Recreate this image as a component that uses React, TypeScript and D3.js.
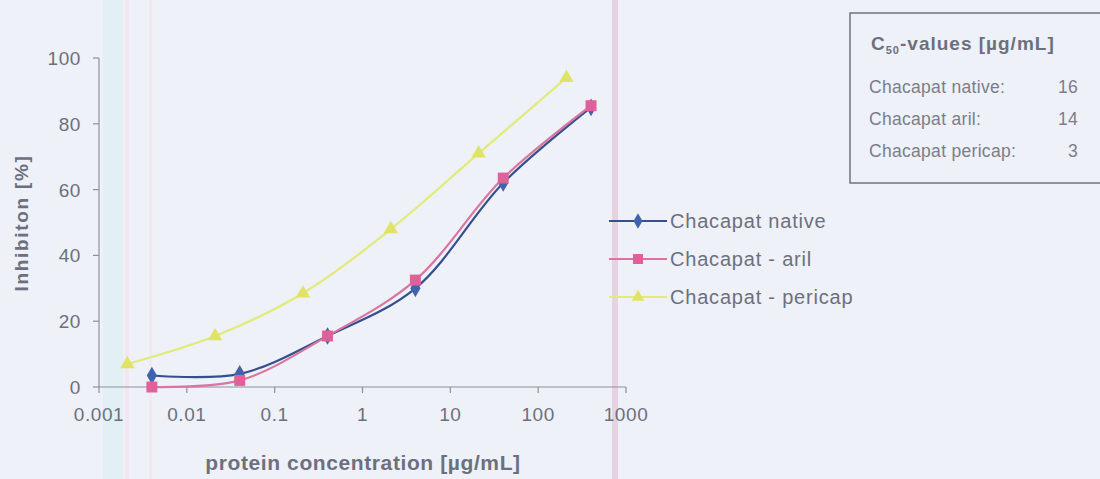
import React from "react";
import * as d3 from "d3";

// concentrations [µg/mL] and inhibition [%]
const nativeConc = [0.004, 0.04, 0.4, 4, 40, 400];
const nativeVals = [3.5, 4, 15.5, 30, 62, 85];
const arilConc = [0.004, 0.04, 0.4, 4, 40, 400];
const arilVals = [0, 2, 15.5, 32.5, 63.5, 85.5];
const pericapConc = [0.0021, 0.021, 0.21, 2.1, 21, 210];
const pericapVals = [7, 15.5, 28.5, 48, 71, 94];

const xTicks = [0.001, 0.01, 0.1, 1, 10, 100, 1000];
const yTicks = [0, 20, 40, 60, 80, 100];

const c50Names = ["Chacapat native:", "Chacapat aril:", "Chacapat pericap:"];
const c50Vals = ["16", "14", "3"];

const W = 1100;
const H = 479;
const font = "Arial, 'Liberation Sans', sans-serif";
const textCol = "#6c707e";

function App() {
  const x = d3.scaleLog().domain([0.001, 1000]).range([99, 626]);
  const y = d3.scaleLinear().domain([0, 100]).range([387, 58]);
  const line = d3
    .line<[number, number]>()
    .x((d) => x(d[0]))
    .y((d) => y(d[1]))
    .curve(d3.curveCatmullRom.alpha(0.5));

  const series = [
    { name: "Chacapat native", conc: nativeConc, vals: nativeVals, line: "#34508f", fill: "#3f63ad", shape: d3.symbolDiamond },
    { name: "Chacapat - aril", conc: arilConc, vals: arilVals, line: "#d9759f", fill: "#e0609a", shape: d3.symbolSquare },
    { name: "Chacapat - pericap", conc: pericapConc, vals: pericapVals, line: "#e2ea78", fill: "#dfe466", shape: d3.symbolTriangle },
  ];
  const drawOrder = [2, 0, 1];

  return (
    <svg width={W} height={H} style={{ position: "absolute", left: 0, top: 0 }}>
      <rect width={W} height={H} fill="#eef1f7" />
      {/* scan artefacts */}
      <rect x={103} y={0} width={20} height={H} fill="#e2f0f6" />
      <rect x={125} y={0} width={4} height={H} fill="#f4e6ee" />
      <rect x={149} y={0} width={3} height={H} fill="#f2e8f0" />
      <rect x={612} y={0} width={6} height={H} fill="#e6d3e0" />

      {/* axes */}
      <g stroke="#8d909a" strokeWidth={1.2}>
        <line x1={99} x2={99} y1={y(100)} y2={y(0)} />
        <line x1={99} x2={626} y1={y(0)} y2={y(0)} />
        {yTicks.map((t) => (
          <line key={t} x1={93} x2={99} y1={y(t)} y2={y(t)} />
        ))}
        {xTicks.map((t) => (
          <line key={t} x1={x(t)} x2={x(t)} y1={y(0)} y2={y(0) + 6} />
        ))}
      </g>
      <g fontFamily={font} fontSize={19} fill={textCol} letterSpacing={0.6}>
        {yTicks.map((t) => (
          <text key={t} x={81} y={y(t) + 7} textAnchor="end">{t}</text>
        ))}
        {xTicks.map((t) => (
          <text key={t} x={x(t)} y={421} textAnchor="middle">{String(t)}</text>
        ))}
      </g>
      <text
        transform="translate(28,223) rotate(-90)"
        textAnchor="middle"
        fontFamily={font}
        fontSize={19}
        fontWeight="bold"
        fill={textCol}
        letterSpacing={1.7}
      >
        Inhibiton [%]
      </text>
      <text x={363} y={470} textAnchor="middle" fontFamily={font} fontSize={21} fontWeight="bold" fill={textCol} letterSpacing={0.6}>
        protein concentration [µg/mL]
      </text>

      {/* series */}
      {drawOrder.map((i) => {
        const s = series[i];
        const pts = s.conc.map((c, k) => [c, s.vals[k]] as [number, number]);
        return (
          <g key={s.name}>
            <path d={line(pts) || ""} fill="none" stroke={s.line} strokeWidth={2.2} />
            {pts.map((p, k) => (
              <path
                key={k}
                transform={`translate(${x(p[0])},${y(p[1])})`}
                d={d3.symbol().type(s.shape).size(i === 1 ? 120 : 90)() || ""}
                fill={s.fill}
              />
            ))}
          </g>
        );
      })}

      {/* legend */}
      {series.map((s, i) => {
        const ly = 221 + i * 38;
        return (
          <g key={s.name}>
            <line x1={609} x2={667} y1={ly} y2={ly} stroke={s.line} strokeWidth={2} />
            <path
              transform={`translate(638,${ly})`}
              d={d3.symbol().type(s.shape).size(i === 1 ? 100 : 70)() || ""}
              fill={s.fill}
            />
            <text x={670} y={ly + 7} fontFamily={font} fontSize={20} fill={textCol} letterSpacing={0.8}>{s.name}</text>
          </g>
        );
      })}

      {/* C50 box */}
      <rect x={850} y={13} width={252} height={170} fill="none" stroke="#70737e" strokeWidth={1.5} />
      <text x={871} y={50} fontFamily={font} fontSize={19} fontWeight="bold" fill={textCol} letterSpacing={1}>
        C<tspan fontSize={11} dy={4}>50</tspan><tspan dy={-4}>-values [µg/mL]</tspan>
      </text>
      {c50Names.map((n, i) => (
        <g key={n} fontFamily={font} fontSize={17.5} fill="#7a7e8c" letterSpacing={0.3}>
          <text x={869} y={93 + i * 32}>{n}</text>
          <text x={1078} y={93 + i * 32} textAnchor="end">{c50Vals[i]}</text>
        </g>
      ))}
    </svg>
  );
}

export default App;
